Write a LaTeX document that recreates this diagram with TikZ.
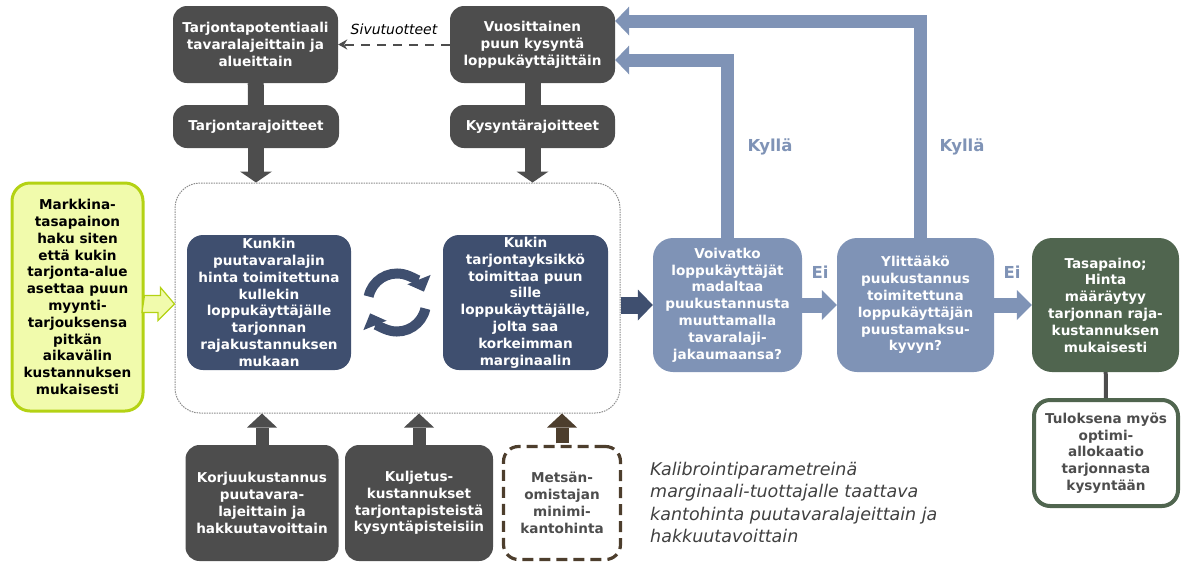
\documentclass[tikz,border=0pt]{standalone}
\usepackage{fontspec}
\setmainfont{DejaVu Sans}
\usepackage{tikz}
\usetikzlibrary{arrows.meta,calc,positioning}

\definecolor{boxgray}{RGB}{77,77,77}
\definecolor{navy}{RGB}{63,79,111}
\definecolor{bluegray}{RGB}{127,147,182}
\definecolor{olive}{RGB}{80,101,79}
\definecolor{lime}{RGB}{180,210,20}
\definecolor{limefill}{RGB}{241,251,172}
\definecolor{brownish}{RGB}{77,62,45}
\definecolor{notegray}{RGB}{64,64,64}

\tikzset{
boxtext/.style={font=\fontsize{13.6}{16.8}\selectfont\bfseries, align=center, inner sep=2pt},
graybox/.style={boxtext, fill=boxgray, text=white, rounded corners=14pt},
navybox/.style={boxtext, fill=navy, text=white, rounded corners=16pt, minimum height=135pt},
qbox/.style={boxtext, fill=bluegray, text=white, rounded corners=20pt, minimum height=134pt},
%block arrows
darr/.style={boxgray, line width=16pt, -{Triangle[width=32pt,length=11pt,line width=0pt]}},
uparr/.style={boxgray, line width=13pt, -{Triangle[width=30pt,length=14pt,line width=0pt]}},
backarr/.style={bluegray, line width=13pt, line join=miter, -{Triangle[width=29pt,length=14pt,line width=0pt]}},
eiarr/.style={bluegray, line width=15pt, -{Triangle[width=30pt,length=15pt,line width=0pt]}},
lbl/.style={font=\fontsize{16.5}{18}\selectfont\bfseries, text=bluegray}
}

\begin{document}
\begin{tikzpicture}[x=1pt,y=-1pt]
\useasboundingbox (0,0) rectangle (1182,563);

% top row
\node[graybox, minimum width=165pt, minimum height=77pt] (pot) at (255.5,44.5) {Tarjontapotentiaali\\tavaralajeittain ja\\alueittain};
\node[graybox, minimum width=166pt, minimum height=43pt] (tr) at (256,126.5) {Tarjontarajoitteet};
\node[graybox, minimum width=165pt, minimum height=77pt] (kys) at (532.5,44.5) {Vuosittainen\\puun kysyntä\\loppukäyttäjittäin};
\node[graybox, minimum width=165pt, minimum height=43pt] (kr) at (532.5,126.5) {Kysyntärajoitteet};

\draw[boxgray, line width=2pt, dash pattern=on 9pt off 7pt, -{Stealth[length=9pt,width=10pt]}] (kys) -- node[above=5pt, text=black, font=\fontsize{14}{16}\selectfont\itshape] (sivu) {Sivutuotteet} (pot);

% left green box
\node[boxtext, fill=limefill, draw=lime, line width=3pt, rounded corners=18pt, minimum width=131pt, minimum height=228pt] (markkina) at (77.5,297) {Markkina-\\tasapainon\\haku siten\\että kukin\\tarjonta-alue\\asettaa puun\\myynti-\\tarjouksensa\\pitkän\\aikavälin\\kustannuksen\\mukaisesti};

% dotted loop
\node[draw=gray!90, line width=1pt, dash pattern=on 1.5pt off 1pt, rounded corners=25pt, minimum width=445pt, minimum height=230pt] (loop) at (397.5,298) {};

\node[navybox, minimum width=164pt] (hinta) at (269,302.5) {Kunkin\\puutavaralajin\\hinta toimitettuna\\kullekin\\loppukäyttäjälle\\tarjonnan\\rajakustannuksen\\mukaan};
\node[navybox, minimum width=165pt] (toim) at (525.5,302.5) {Kukin\\tarjontayksikkö\\toimittaa puun\\sille\\loppukäyttäjälle,\\jolta saa\\korkeimman\\marginaalin};

% cycle
\coordinate (cyc) at ($(hinta.east)!0.5!(toim.west)$);
\draw[navy, line width=10pt, -{Triangle[width=25pt,length=13pt,line width=0pt]}] (cyc) ++(192:29) arc (192:338:29);
\draw[navy, line width=10pt, -{Triangle[width=25pt,length=13pt,line width=0pt]}] (cyc) ++(12:29) arc (12:158:29);

% input arrow
\coordinate (ia) at (markkina.east |- 0,304);
\draw[fill=limefill, draw=lime, line width=1.2pt, line join=miter] (ia) ++(0,-8.5) -- ++(16,0) -- ++(0,-8) -- (loop.west |- ia) -- ++(-16.5,16.5) -- ++(0,-8) -- ++(-16,0) -- cycle;

% questions
\node[qbox, minimum width=149pt] (voiv) at (727.5,305) {Voivatko\\loppukäyttäjät\\madaltaa\\puukustannusta\\muuttamalla\\tavaralaji-\\jakaumaansa?};
\node[qbox, minimum width=157pt] (ylit) at (915.5,305) {Ylittääkö\\puukustannus\\toimitettuna\\loppukäyttäjän\\puustamaksu-\\kyvyn?};
\node[boxtext, fill=olive, text=white, rounded corners=20pt, minimum width=147pt, minimum height=134pt] (tasa) at (1105.5,305) {Tasapaino;\\Hinta\\määräytyy\\tarjonnan raja-\\kustannuksen\\mukaisesti};
\node[boxtext, fill=white, draw=olive, text=boxgray, line width=4pt, rounded corners=16pt, minimum width=144pt, minimum height=106pt] (tulos) at (1106,453) {Tuloksena myös\\optimi-\\allokaatio\\tarjonnasta\\kysyntään};

\draw[navy, line width=17pt, -{Triangle[width=31pt,length=15pt,line width=0pt]}] (loop.east |- voiv.west) -- (voiv.west);
\draw[eiarr] (voiv) -- (ylit);
\draw[eiarr] (ylit) -- (tasa);
\draw[boxgray, line width=4pt] (tasa) -- (tulos);
\node[lbl] (ei1) at (820,272) {Ei};
\node[lbl] (ei2) at (1012,272) {Ei};

% feedback
\draw[backarr] (voiv.north) |- ([yshift=-15.5pt]kys.east);
\draw[backarr] ([xshift=4.5pt]ylit.north) |- ([yshift=23.5pt]kys.east);
\node[lbl] (kyl1) at (770,147) {Kyllä};
\node[lbl] (kyl2) at (962,147) {Kyllä};

% down arrows
\draw[boxgray, line width=16pt] (pot) -- (tr);
\draw[boxgray, line width=16pt] (kys) -- (kr);
\draw[darr] (tr.south) -- (tr.south |- loop.north);
\draw[darr] (kr.south) -- (kr.south |- loop.north);

% bottom row
\node[graybox, minimum width=153pt, minimum height=116pt] (korj) at (262,503) {Korjuukustannus\\puutavara-\\lajeittain ja\\hakkuutavoittain};
\node[graybox, minimum width=148pt, minimum height=116pt] (kulj) at (419,503) {Kuljetus-\\kustannukset\\tarjontapisteistä\\kysyntäpisteisiin};
\node[boxtext, draw=brownish, text=boxgray, line width=3.2pt, dash pattern=on 11pt off 6pt, rounded corners=15pt, minimum width=117pt, minimum height=113pt] (mets) at (562,503) {Metsän-\\omistajan\\minimi-\\kantohinta};

\draw[uparr] (korj.north) -- (korj.north |- loop.south);
\draw[uparr] (kulj.north) -- (kulj.north |- loop.south);
\draw[uparr, brownish] ([yshift=1.5pt]mets.north) -- (mets.north |- loop.south);

\node[anchor=north west, inner sep=0pt, align=left, text=notegray, font=\fontsize{17.5}{22.3}\selectfont\itshape] (kalib) at (650,462) {Kalibrointiparametreinä\\marginaali-tuottajalle taattava\\kantohinta puutavaralajeittain ja\\hakkuutavoittain};

\end{tikzpicture}
\end{document}
